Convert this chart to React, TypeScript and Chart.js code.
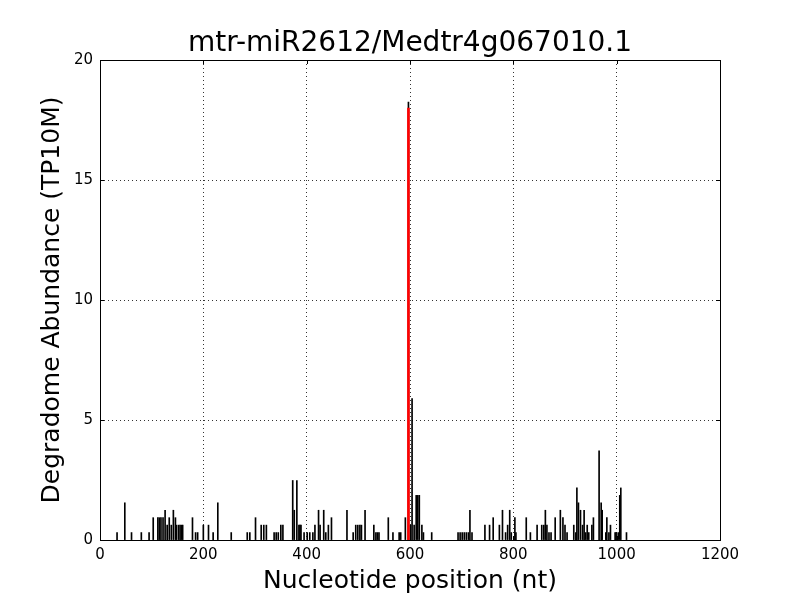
import React, { useEffect, useRef } from "react";
import { Chart, registerables } from "chart.js";

Chart.register(...registerables);

const TITLE = "mtr-miR2612/Medtr4g067010.1";
const X_LABEL = "Nucleotide position (nt)";
const Y_LABEL = "Degradome Abundance (TP10M)";

const positions = [
  33, 48, 61, 80, 95, 103, 112, 115, 118, 122, 126, 130, 134, 138, 142, 146, 148, 152, 155, 158, 160,
  179, 185, 189, 200, 210, 219, 228, 254, 285, 290, 301, 312, 317, 322, 337, 341, 345, 350, 354,
  373, 376, 381, 385, 387, 389, 395, 401, 406, 412, 416, 423, 426, 433, 437, 442, 448, 478, 490,
  495, 499, 503, 506, 513, 530, 534, 537, 540, 558, 567, 579, 582, 591, 597, 601, 604, 608, 612,
  615, 618, 623, 626, 642, 693, 697, 701, 705, 709, 713, 716, 720, 745, 754, 761, 773, 779, 785,
  789, 793, 796, 803, 805, 825, 833, 846, 855, 859, 862, 865, 869, 873, 881, 891, 896, 900, 904,
  917, 921, 923, 926, 930, 934, 937, 940, 943, 946, 952, 955, 966, 970, 972, 979, 981, 985, 988,
  997, 999, 1003, 1006, 1008, 1019,
];
const abundances = [
  0.31, 1.55, 0.31, 0.31, 0.31, 0.93, 0.93, 0.93, 0.93, 0.93, 1.24, 0.62, 0.93, 0.62, 1.24, 0.93, 0.62, 0.62, 0.62, 0.62, 0.62,
  0.93, 0.31, 0.31, 0.62, 0.62, 0.31, 1.55, 0.31, 0.31, 0.31, 0.93, 0.62, 0.62, 0.62, 0.31, 0.31, 0.31, 0.62, 0.62,
  2.48, 1.24, 2.48, 0.62, 0.62, 0.62, 0.31, 0.31, 0.31, 0.31, 0.62, 1.24, 0.62, 1.24, 0.31, 0.62, 0.93, 1.24, 0.31,
  0.62, 0.62, 0.62, 0.62, 1.24, 0.62, 0.31, 0.31, 0.31, 0.93, 0.31, 0.31, 0.31, 0.93, 18.25, 0.62, 5.89, 0.62, 1.86,
  1.86, 1.86, 0.62, 0.31, 0.31, 0.31, 0.31, 0.31, 0.31, 0.31, 0.31, 1.24, 0.31, 0.62, 0.62, 0.93, 0.62, 1.24, 0.31,
  0.62, 1.24, 0.31, 0.93, 0.31, 0.93, 0.31, 0.62, 0.62, 0.62, 1.24, 0.62, 0.31, 0.31, 0.93, 1.24, 0.93, 0.62, 0.31,
  0.62, 0.31, 2.17, 1.55, 1.24, 0.62, 1.24, 0.31, 0.62, 0.31, 0.62, 0.93, 3.72, 1.55, 1.24, 0.31, 0.93, 0.31, 0.62,
  0.31, 0.31, 0.31, 1.86, 2.17, 0.31,
];

const targetPositions = [597];
const targetAbundances = [18.0];

const xTicks = [0, 200, 400, 600, 800, 1000, 1200];
const yTicks = [0, 5, 10, 15, 20];

const FONT = "'DejaVu Sans', sans-serif";

const frameTicksPlugin = {
  id: "frameTicks",
  afterDraw(chart: any) {
    const { ctx, chartArea } = chart;
    const { left, right, top, bottom } = chartArea;
    const xs = chart.scales.x;
    const ys = chart.scales.y;
    ctx.save();
    ctx.strokeStyle = "#000";
    ctx.lineWidth = 1;
    ctx.beginPath();
    const tl = 4;
    for (const v of xTicks) {
      const px = Math.round(xs.getPixelForValue(v)) + 0.5;
      ctx.moveTo(px, bottom);
      ctx.lineTo(px, bottom - tl);
      ctx.moveTo(px, top);
      ctx.lineTo(px, top + tl);
    }
    for (const v of yTicks) {
      const py = Math.round(ys.getPixelForValue(v)) + 0.5;
      ctx.moveTo(left, py);
      ctx.lineTo(left + tl, py);
      ctx.moveTo(right, py);
      ctx.lineTo(right - tl, py);
    }
    ctx.stroke();
    ctx.strokeRect(Math.round(left) + 0.5, Math.round(top) + 0.5, Math.round(right - left), Math.round(bottom - top));
    // title centred over the plot area
    ctx.fillStyle = "#000";
    ctx.font = `28px ${FONT}`;
    ctx.textAlign = "center";
    ctx.textBaseline = "middle";
    ctx.fillText(TITLE, (left + right) / 2, 44);
    ctx.restore();
  },
};

export default function App() {
  const ref = useRef<HTMLCanvasElement | null>(null);
  useEffect(() => {
    document.body.style.margin = "0";
    const canvas = ref.current!;
    const chart = new Chart(canvas, {
      type: "bar",
      data: {
        datasets: [
          {
            label: "target",
            data: targetPositions.map((x, i) => ({ x, y: targetAbundances[i] })),
            backgroundColor: "#ff0000",
            borderWidth: 0,
            barThickness: 2,
            grouped: false,
          } as any,
          {
            label: "reads",
            data: positions.map((x, i) => ({ x, y: abundances[i] })),
            backgroundColor: "#000000",
            borderWidth: 0,
            barThickness: 1,
            grouped: false,
          } as any,
        ],
      },
      plugins: [frameTicksPlugin],
      options: {
        animation: false,
        responsive: false,
        maintainAspectRatio: false,
        layout: { padding: { top: 60, right: 80, left: 0, bottom: 0 } },
        plugins: {
          legend: { display: false },
          tooltip: { enabled: false },
          title: { display: false },
        },
        scales: {
          x: {
            type: "linear",
            min: 0,
            max: 1200,
            offset: false,
            afterFit(scale: any) {
              scale.height = 60;
            },
            afterBuildTicks(scale: any) {
              scale.ticks = xTicks.map((v) => ({ value: v }));
            },
            grid: {
              offset: false,
              color: "#000",
              lineWidth: 0.8,
              drawTicks: false,
            } as any,
            border: { display: false, dash: [1, 3] } as any,
            ticks: {
              color: "#000",
              padding: 6,
              maxRotation: 0,
              font: { family: FONT, size: 15 },
              callback: (v: any) => String(v),
            },
            title: {
              display: true,
              text: X_LABEL,
              color: "#000",
              font: { family: FONT, size: 25, lineHeight: 1.2 },
              padding: { top: 0, bottom: 4 },
            },
          },
          y: {
            type: "linear",
            min: 0,
            max: 20,
            afterFit(scale: any) {
              scale.width = 100;
            },
            afterBuildTicks(scale: any) {
              scale.ticks = yTicks.map((v) => ({ value: v }));
            },
            grid: {
              color: "#000",
              lineWidth: 0.8,
              drawTicks: false,
            },
            border: { display: false, dash: [1, 3] } as any,
            ticks: {
              color: "#000",
              padding: 7,
              font: { family: FONT, size: 15 },
              callback: (v: any) => String(v),
            },
            title: {
              display: true,
              text: Y_LABEL,
              color: "#000",
              font: { family: FONT, size: 25, lineHeight: 1.2 },
              padding: { top: 37, bottom: 0 },
            },
          },
        },
      } as any,
    });
    return () => chart.destroy();
  }, []);
  return (
    <div style={{ width: 800, height: 600, position: "relative", background: "#fff" }}>
      <canvas ref={ref} width={800} height={600} style={{ display: "block" }} />
    </div>
  );
}
